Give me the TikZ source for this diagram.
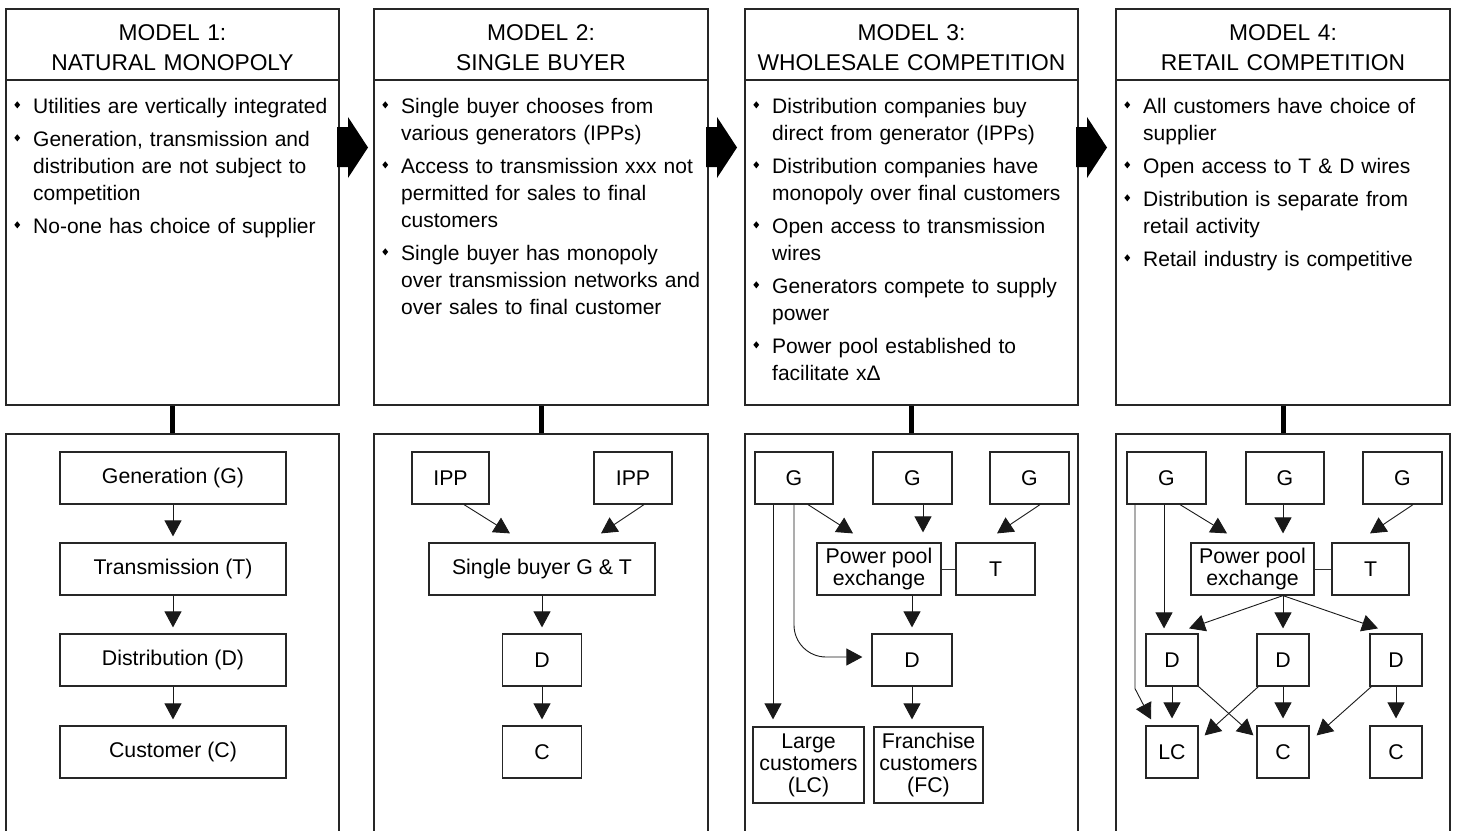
\documentclass[tikz,border=0pt]{standalone}
\usepackage{fontspec}
\setmainfont{Liberation Sans}
\usetikzlibrary{arrows.meta,calc}

% type sizes
\newcommand\hdfont{\fontsize{22.8}{30}\selectfont}
\newcommand\bdfont{\fontsize{21}{27}\selectfont}
\newcommand\nfont{\fontsize{21.3}{22}\selectfont}

% diamond bullet and bullet item with hanging indent
\newcommand\bul{\raisebox{4.6pt}{\scalebox{0.85}[1.05]{\rotatebox{45}{\rule{4.8pt}{4.8pt}}}}}
\newcommand\bitem[1]{\noindent\hangindent=21pt\hangafter=1
  \makebox[21pt][l]{\hspace{2.2pt}\bul}#1\par}

\tikzset{
  panel/.style={draw=black!85, line width=1.3pt, inner sep=0pt},
  blk/.style={draw=black!85, line width=1.2pt, inner sep=0pt, align=center,
              font=\nfont, minimum height=52pt},
  arr/.style={draw=black!90, line width=0.9pt, -{Triangle[length=16pt,width=17pt]}},
  link/.style={draw=black!80, line width=0.9pt},
  stem/.style={draw=black, line width=5pt},
  head/.style={font=\hdfont, align=center, text width=330pt, anchor=base, inner sep=0pt},
  body/.style={font=\bdfont, text width=340pt, anchor=base west, inner sep=0pt},
}

\begin{document}
\begin{tikzpicture}[x=1pt,y=-1pt]
\clip (0,0) rectangle (1458,830);
\fill[white] (0,0) rectangle (1458,830);

% ---------- upper panels ----------
\node[panel, minimum width=333pt, minimum height=396pt] (top1) at (172.5,207) {};
\node[panel, minimum width=334pt, minimum height=396pt] (top2) at (541,207) {};
\node[panel, minimum width=333pt, minimum height=396pt] (top3) at (911.5,207) {};
\node[panel, minimum width=334pt, minimum height=396pt] (top4) at (1283,207) {};
\foreach \p in {top1,top2,top3,top4}
  \draw[panel] (\p.west |- 0,80) -- (\p.east |- 0,80);

% ---------- lower panels ----------
\node[panel, minimum width=333pt, minimum height=416pt] (bot1) at (172.5,642) {};
\node[panel, minimum width=334pt, minimum height=416pt] (bot2) at (541,642) {};
\node[panel, minimum width=333pt, minimum height=416pt] (bot3) at (911.5,642) {};
\node[panel, minimum width=334pt, minimum height=416pt] (bot4) at (1283,642) {};

\draw[stem] (top1.south) -- (bot1.north);
\draw[stem] (top2.south) -- (bot2.north);
\draw[stem] (top3.south) -- (bot3.north);
\draw[stem] (top4.south) -- (bot4.north);

% ---------- block arrows between models ----------
\foreach \x in {337,706,1076}
  \fill[black] (\x,127) -- (\x+11,127) -- (\x+11,117) -- (\x+31,147.5)
    -- (\x+11,178) -- (\x+11,167) -- (\x,167) -- cycle;

% ---------- headings ----------
\node[head] (h1) at (172.5,40) {MODEL 1:\\NATURAL MONOPOLY};
\node[head] (h2) at (541,40) {MODEL 2:\\SINGLE BUYER};
\node[head] (h3) at (911.5,40) {MODEL 3:\\WHOLESALE COMPETITION};
\node[head] (h4) at (1283,40) {MODEL 4:\\RETAIL COMPETITION};

% ---------- descriptions ----------
\node[body] (b1) at (12,113) {\setlength{\parskip}{6pt}%
  \bitem{Utilities are vertically integrated}%
  \bitem{Generation, transmission and\newline distribution are not subject to\newline competition}%
  \bitem{No-one has choice of supplier}};
\node[body] (b2) at (380,113) {\setlength{\parskip}{6pt}%
  \bitem{Single buyer chooses from\newline various generators (IPPs)}%
  \bitem{Access to transmission xxx not\newline permitted for sales to final\newline customers}%
  \bitem{Single buyer has monopoly\newline over transmission networks and\newline over sales to final customer}};
\node[body] (b3) at (751,113) {\setlength{\parskip}{6pt}%
  \bitem{Distribution companies buy\newline direct from generator (IPPs)}%
  \bitem{Distribution companies have\newline monopoly over final customers}%
  \bitem{Open access to transmission\newline wires}%
  \bitem{Generators compete to supply\newline power}%
  \bitem{Power pool established to\newline facilitate xΔ}};
\node[body] (b4) at (1122,113) {\setlength{\parskip}{6pt}%
  \bitem{All customers have choice of\newline supplier}%
  \bitem{Open access to T \& D wires}%
  \bitem{Distribution is separate from\newline retail activity}%
  \bitem{Retail industry is competitive}};

% ---------- model 1: natural monopoly ----------
\node[blk, minimum width=226pt] (gen) at (173,478) {Generation (G)};
\node[blk, minimum width=226pt] (tra) at (173,569) {Transmission (T)};
\node[blk, minimum width=226pt] (dis) at (173,660) {Distribution (D)};
\node[blk, minimum width=226pt] (cus) at (173,752) {Customer (C)};
\draw[arr] (gen.south) -- ($(tra.north)+(0,-6)$);
\draw[arr] (tra.south) -- ($(dis.north)+(0,-6)$);
\draw[arr] (dis.south) -- ($(cus.north)+(0,-6)$);

% ---------- model 2: single buyer ----------
\node[blk, minimum width=77pt] (ipa) at (450.5,478) {IPP};
\node[blk, minimum width=78pt] (ipb) at (633,478) {IPP};
\node[blk, minimum width=226pt] (sb) at (542,569) {Single buyer G \& T};
\node[blk, minimum width=79pt] (sd) at (542,660) {D};
\node[blk, minimum width=79pt] (sc) at (542,752) {C};
\draw[arr] ($(ipa.south)+(13.5,0)$) -- ($(sb.north)+(-32,-9)$);
\draw[arr] ($(ipb.south)+(11,0)$) -- ($(sb.north)+(59,-9)$);
\draw[arr] (sb.south) -- ($(sd.north)+(0,-6)$);
\draw[arr] (sd.south) -- ($(sc.north)+(0,-6)$);

% ---------- model 3: wholesale competition ----------
\node[blk, minimum width=78pt] (wg1) at (794,478) {G};
\node[blk, minimum width=79pt] (wg2) at (912.5,478) {G};
\node[blk, minimum width=79pt] (wg3) at (1029.5,478) {G};
\node[blk, minimum width=124pt] (wpp) at (879,569) {Power pool\\exchange};
\node[blk, minimum width=79pt] (wt) at (995.5,569) {T};
\node[blk, minimum width=80pt] (wd) at (912,660) {D};
\node[blk, minimum width=111pt, minimum height=76pt] (wlc) at (808.5,765) {Large\\customers\\(LC)};
\node[blk, minimum width=109pt, minimum height=76pt] (wfc) at (928.5,765) {Franchise\\customers\\(FC)};
\draw[link] (wpp.east) -- (wt.west);
\draw[arr] ($(wg1.south)+(-21,0)$) -- ($(wlc.north)+(-35.5,-7)$);
\draw[arr, rounded corners=32pt] (wg1.south) |- ($(wd.west)+(-9,-3)$);
\draw[arr] ($(wg1.south)+(14,0)$) -- ($(wpp.north)+(-26,-9)$);
\draw[arr] ($(wg2.south)+(10.5,0)$) -- ($(wpp.north)+(44,-10)$);
\draw[arr] ($(wg3.south)+(10.5,0)$) -- ($(wt.north)+(1.5,-9)$);
\draw[arr] ($(wpp.south)+(33,0)$) -- ($(wd.north)+(0,-6)$);
\draw[arr] (wd.south) -- ($(wfc.north)+(-16.5,-7)$);

% ---------- model 4: retail competition ----------
\node[blk, minimum width=79pt] (rg1) at (1166.5,478) {G};
\node[blk, minimum width=78pt] (rg2) at (1285,478) {G};
\node[blk, minimum width=79pt] (rg3) at (1402.5,478) {G};
\node[blk, minimum width=123pt] (rpp) at (1252.5,569) {Power pool\\exchange};
\node[blk, minimum width=77pt] (rt) at (1370.5,569) {T};
\node[blk, minimum width=52pt] (rd1) at (1172,660) {D};
\node[blk, minimum width=52pt] (rd2) at (1283,660) {D};
\node[blk, minimum width=52pt] (rd3) at (1396,660) {D};
\node[blk, minimum width=52pt] (rlc) at (1172,752) {LC};
\node[blk, minimum width=52pt] (rc1) at (1283,752) {C};
\node[blk, minimum width=52pt] (rc2) at (1396,752) {C};
\draw[link] (rpp.east) -- (rt.west);
\draw[arr] ($(rg1.south)+(-31.5,0)$) -- ++(0,184) -- ($(rlc.north)+(-21,-6)$);
\draw[arr] ($(rg1.south)+(-2.5,0)$) -- ($(rd1.north)+(-8,-5)$);
\draw[arr] ($(rg1.south)+(13.5,0)$) -- ($(rpp.north)+(-25.5,-9)$);
\draw[arr] ($(rg2.south)+(-2,0)$) -- ($(rpp.north)+(30.5,-9)$);
\draw[arr] ($(rg3.south)+(10.5,0)$) -- ($(rt.north)+(-0.5,-9)$);
\draw[arr] ($(rpp.south)+(30.5,0)$) -- ($(rd1.north)+(17,-5)$);
\draw[arr] ($(rpp.south)+(30.5,0)$) -- ($(rd2.north)+(0,-5)$);
\draw[arr] ($(rpp.south)+(30.5,0)$) -- ($(rd3.north)+(-18,-5)$);
\draw[arr] (rd1.south) -- ($(rlc.north)+(0,-7)$);
\draw[arr] (rd1.south east) -- ($(rc1.north west)+(-3,10)$);
\draw[arr] ($(rd2.south west)+(2,0)$) -- ($(rlc.north east)+(6,10)$);
\draw[arr] (rd2.south) -- ($(rc1.north)+(0,-7)$);
\draw[arr] ($(rd3.south west)+(2,0)$) -- ($(rc1.north east)+(7,10)$);
\draw[arr] (rd3.south) -- ($(rc2.north)+(0,-7)$);
\end{tikzpicture}
\end{document}
